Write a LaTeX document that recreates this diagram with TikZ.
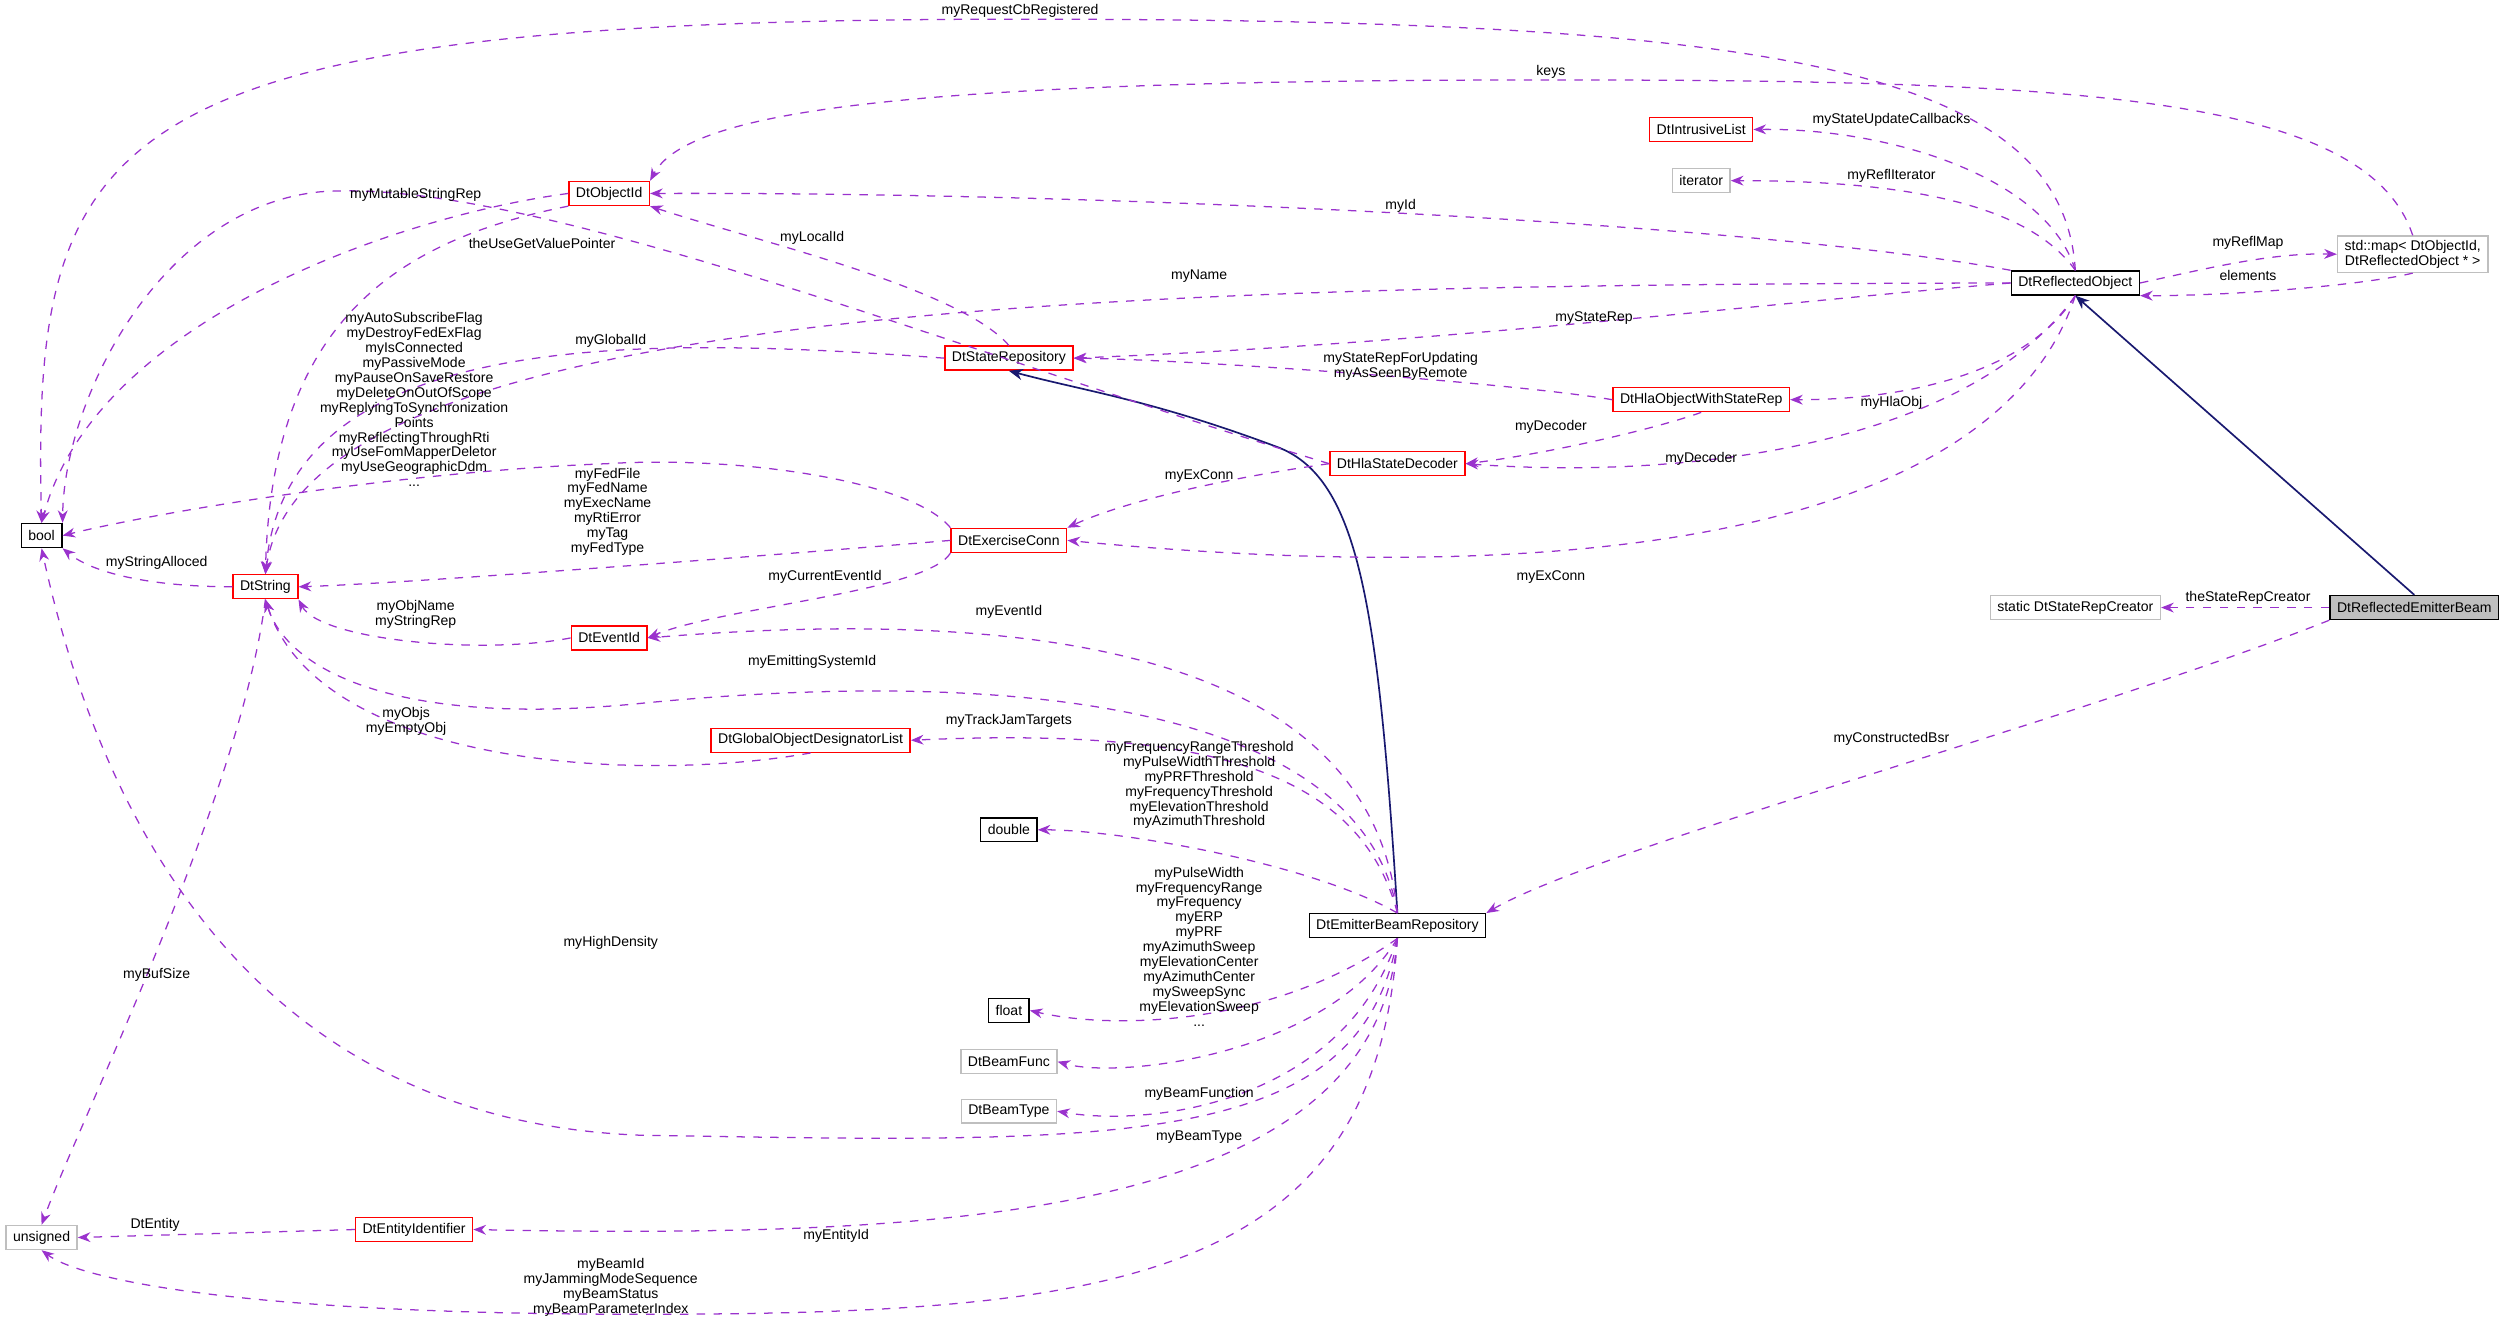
\documentclass[tikz,border=0pt]{standalone}
\usepackage{fontspec}
\setmainfont{Liberation Sans}
\usetikzlibrary{arrows.meta}
\definecolor{dep}{HTML}{9A32CD}
\definecolor{inh}{HTML}{191970}
\definecolor{redb}{HTML}{FF0000}
\definecolor{grayb}{HTML}{BFBFBF}
\begin{document}
\begin{tikzpicture}[
        x=0.02cm, y=-0.02cm,
        cls/.style={draw,rectangle,fill=white,font=\fontsize{5}{5.3}\selectfont,inner xsep=2.5pt,inner ysep=1.5pt,minimum height=0.3cm,line width=0.5pt},
        red/.style={cls,draw=redb},
        gry/.style={cls,draw=grayb},
        blk/.style={cls,draw=black},
        lbl/.style={font=\fontsize{5}{5.3}\selectfont,align=center,inner sep=0pt},
        use/.style={draw=dep,dashed,line width=0.45pt,-{Stealth[length=4.5pt,width=3.5pt]}},
        isa/.style={draw=inh,line width=0.6pt,-{Stealth[length=5pt,width=4pt]}}
    ]
    \useasboundingbox (0,0) rectangle (1568,827);
    % classes
    \node[blk] (bool) at (26,335) {bool};
    \node[red] (str) at (166,367) {DtString};
    \node[gry] (uns) at (26,774) {unsigned};
    \node[red] (oid) at (381,121) {DtObjectId};
    \node[red] (srep) at (631,224) {DtStateRepository};
    \node[red] (hsd) at (874,290) {DtHlaStateDecoder};
    \node[red] (exc) at (631,338) {DtExerciseConn};
    \node[red] (eid) at (381,399) {DtEventId};
    \node[red] (godl) at (507,463) {DtGlobalObjectDesignatorList};
    \node[blk] (dbl) at (631,519) {double};
    \node[blk] (flt) at (631,632) {float};
    \node[gry] (bfunc) at (631,664) {DtBeamFunc};
    \node[gry] (btype) at (631,695) {DtBeamType};
    \node[red] (eident) at (259,769) {DtEntityIdentifier};
    \node[blk] (ebr) at (874,579) {DtEmitterBeamRepository};
    \node[red] (ilist) at (1064,81) {DtIntrusiveList};
    \node[gry] (iter) at (1064,113) {iterator};
    \node[blk] (robj) at (1298,177) {DtReflectedObject};
    \node[red] (howsr) at (1064,250) {DtHlaObjectWithStateRep};
    \node[gry,align=center] (map) at (1509,159) {std::map\textless{} DtObjectId,\\DtReflectedObject * \textgreater};
    \node[gry] (src) at (1298,380) {static DtStateRepCreator};
    \node[blk,fill=grayb] (reb) at (1510,380) {DtReflectedEmitterBeam};
    % inheritance
    \draw[isa] (reb.north) -- (robj.south);
    \draw[isa] (ebr.north) .. controls (862,380) and (850,300) .. (800,280) .. controls (720,250) and (680,245) .. (srep.south);
    % usage
    \draw[use] (robj.north) .. controls (1290,40) and (1100,12) .. (638,12) .. controls (60,12) and (20,80) .. (bool.north);
    \draw[use] (map.north) .. controls (1480,60) and (1300,50) .. (970,50) .. controls (560,50) and (430,70) .. (oid.north east);
    \draw[use] (robj.north) .. controls (1280,110) and (1180,80) .. (ilist.east);
    \draw[use] (robj.north) .. controls (1270,130) and (1200,113) .. (iter.east);
    \draw[use] (robj.north west) .. controls (1100,140) and (700,120) .. (oid.east);
    \draw[use] (robj.east) .. controls (1380,168) and (1420,158) .. (map.west);
    \draw[use] (map.south) .. controls (1480,178) and (1400,185) .. (robj.south east);
    \draw[use] (robj.west) .. controls (700,178) and (190,190) .. (str.north);
    \draw[use] (robj.west) .. controls (1100,190) and (900,215) .. (srep.east);
    \draw[use] (robj.south) .. controls (1270,230) and (1200,250) .. (howsr.east);
    \draw[use] (robj.south) .. controls (1230,280) and (1050,300) .. (hsd.east);
    \draw[use] (robj.south) .. controls (1250,330) and (1000,370) .. (exc.east);
    \draw[use] (srep.north) .. controls (600,180) and (470,150) .. (oid.south east);
    \draw[use] (srep.west) .. controls (400,210) and (180,205) .. (str.north);
    \draw[use] (oid.south west) .. controls (250,150) and (170,200) .. (str.north);
    \draw[use] (oid.west) .. controls (250,135) and (60,200) .. (bool.north);
    \draw[use] (hsd.west) .. controls (600,220) and (330,110) .. (200,120) .. controls (100,130) and (40,250) .. (bool.north east);
    \draw[use] (howsr.west) .. controls (950,240) and (750,225) .. (srep.east);
    \draw[use] (howsr.south) .. controls (1030,270) and (960,285) .. (hsd.east);
    \draw[use] (exc.north west) .. controls (570,300) and (460,285) .. (380,290) .. controls (250,295) and (100,320) .. (bool.east);
    \draw[use] (exc.west) .. controls (450,350) and (250,365) .. (str.east);
    \draw[use] (exc.south west) .. controls (580,370) and (450,380) .. (eid.east);
    \draw[use] (hsd.west) .. controls (760,300) and (700,315) .. (exc.north east);
    \draw[use] (str.west) .. controls (100,367) and (60,360) .. (bool.south east);
    \draw[use] (str.south) .. controls (150,500) and (50,700) .. (uns.north);
    \draw[use] (eid.west) .. controls (300,410) and (200,400) .. (str.south east);
    \draw[use] (ebr.north) .. controls (860,430) and (700,375) .. (eid.east);
    \draw[use] (ebr.north) .. controls (850,430) and (600,420) .. (400,440) .. controls (250,455) and (180,420) .. (str.south);
    \draw[use] (godl.south) .. controls (400,490) and (200,480) .. (str.south);
    \draw[use] (ebr.north) .. controls (850,480) and (750,455) .. (godl.east);
    \draw[use] (ebr.north) .. controls (820,540) and (700,519) .. (dbl.east);
    \draw[use] (ebr.south) .. controls (800,640) and (700,645) .. (flt.east);
    \draw[use] (ebr.south) .. controls (830,660) and (700,675) .. (bfunc.east);
    \draw[use] (ebr.south) .. controls (840,690) and (720,705) .. (btype.east);
    \draw[use] (ebr.south) .. controls (850,720) and (700,715) .. (400,710) .. controls (150,700) and (60,500) .. (bool.south);
    \draw[use] (ebr.south) .. controls (860,760) and (600,775) .. (eident.east);
    \draw[use] (ebr.south) .. controls (860,800) and (700,822) .. (400,822) .. controls (150,822) and (50,800) .. (uns.south);
    \draw[use] (eident.west) -- (uns.east);
    \draw[use] (reb.west) -- (src.east);
    \draw[use] (reb.south west) .. controls (1300,450) and (1000,530) .. (ebr.north east);
    % labels
    \node[lbl] (lReq) at (638,7) {myRequestCbRegistered};
    \node[lbl] (lKeys) at (970,45) {keys};
    \node[lbl] (lSuc) at (1183,75) {myStateUpdateCallbacks};
    \node[lbl] (lRit) at (1183,110) {myReflIterator};
    \node[lbl] (lId) at (876,129) {myId};
    \node[lbl] (lRmap) at (1406,152) {myReflMap};
    \node[lbl] (lElem) at (1406,172) {elements};
    \node[lbl] (lName) at (750,173) {myName};
    \node[lbl] (lSrep) at (997,199) {myStateRep};
    \node[lbl] (lHla) at (1183,252) {myHlaObj};
    \node[lbl] (lDec) at (1064,287) {myDecoder};
    \node[lbl] (lExc) at (970,361) {myExConn};
    \node[lbl] (lLoc) at (508,149) {myLocalId};
    \node[lbl] (lGlob) at (382,213) {myGlobalId};
    \node[lbl] (lMut) at (260,122) {myMutableStringRep};
    \node[lbl] (lUse) at (339,152) {theUseGetValuePointer};
    \node[lbl] (lUpd) at (876,229) {myStateRepForUpdating\\myAsSeenByRemote};
    \node[lbl] (lDec2) at (970,267) {myDecoder};
    \node[lbl] (lFlags) at (259,250) {myAutoSubscribeFlag\\myDestroyFedExFlag\\myIsConnected\\myPassiveMode\\myPauseOnSaveRestore\\myDeleteOnOutOfScope\\myReplyingToSynchronization\\Points\\myReflectingThroughRti\\myUseFomMapperDeletor\\myUseGeographicDdm\\...};
    \node[lbl] (lFed) at (380,320) {myFedFile\\myFedName\\myExecName\\myRtiError\\myTag\\myFedType};
    \node[lbl] (lCur) at (516,361) {myCurrentEventId};
    \node[lbl] (lExc2) at (750,298) {myExConn};
    \node[lbl] (lAll) at (98,352) {myStringAlloced};
    \node[lbl] (lBuf) at (98,610) {myBufSize};
    \node[lbl] (lObjN) at (260,384) {myObjName\\myStringRep};
    \node[lbl] (lEv) at (631,383) {myEventId};
    \node[lbl] (lEms) at (508,414) {myEmittingSystemId};
    \node[lbl] (lObjs) at (254,451) {myObjs\\myEmptyObj};
    \node[lbl] (lTrk) at (631,451) {myTrackJamTargets};
    \node[lbl] (lThr) at (750,491) {myFrequencyRangeThreshold\\myPulseWidthThreshold\\myPRFThreshold\\myFrequencyThreshold\\myElevationThreshold\\myAzimuthThreshold};
    \node[lbl] (lPw) at (750,592) {myPulseWidth\\myFrequencyRange\\myFrequency\\myERP\\myPRF\\myAzimuthSweep\\myElevationCenter\\myAzimuthCenter\\mySweepSync\\myElevationSweep\\...};
    \node[lbl] (lBf) at (750,684) {myBeamFunction};
    \node[lbl] (lBt) at (750,711) {myBeamType};
    \node[lbl] (lHd) at (382,590) {myHighDensity};
    \node[lbl] (lEnt) at (523,773) {myEntityId};
    \node[lbl] (lBid) at (382,805) {myBeamId\\myJammingModeSequence\\myBeamStatus\\myBeamParameterIndex};
    \node[lbl] (lDte) at (97,766) {DtEntity};
    \node[lbl] (lSrc) at (1406,374) {theStateRepCreator};
    \node[lbl] (lBsr) at (1183,462) {myConstructedBsr};
\end{tikzpicture}
\end{document}
